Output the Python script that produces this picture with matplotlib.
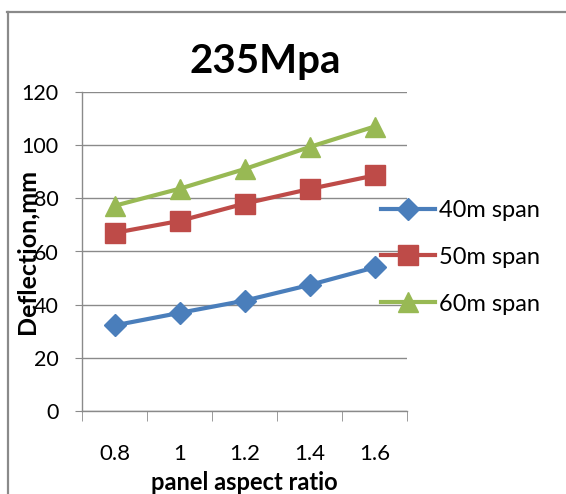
import matplotlib
matplotlib.use("Agg")
import matplotlib.pyplot as plt
from matplotlib.lines import Line2D

plt.rcParams['font.family'] = ['Lato', 'DejaVu Sans']

categories = ["0.8", "1", "1.2", "1.4", "1.6"]
span40 = [32.2, 36.9, 41.5, 47.4, 54.0]
span50 = [67.0, 71.5, 78.0, 83.5, 88.6]
span60 = [77.2, 83.6, 91.0, 99.3, 107.0]
series_names = ["40m span", "50m span", "60m span"]
y_ticks = [0, 20, 40, 60, 80, 100, 120]

W, H = 566, 494
fig = plt.figure(figsize=(W/100, H/100), dpi=100)
fig.patch.set_facecolor('white')

# outer chart border (left and top visible)
fig.add_artist(Line2D([7.5/W, 7.5/W], [0, 1-12/H], color='#8a8a8a', lw=1.6, transform=fig.transFigure))
fig.add_artist(Line2D([7/W, 1], [1-12.5/H, 1-12.5/H], color='#8a8a8a', lw=1.6, transform=fig.transFigure))

ax = fig.add_axes([82/W, 1-411/H, (407-82)/W, (411-92)/H])
x = list(range(len(categories)))

lw = 3.0
ax.plot(x, span40, color='#4A7EBB', lw=lw, marker='D', ms=11, label=series_names[0], zorder=3)
ax.plot(x, span50, color='#BE4B48', lw=lw, marker='s', ms=14, label=series_names[1], zorder=3)
ax.plot(x, span60, color='#98B954', lw=lw, marker='^', ms=15, label=series_names[2], zorder=3)

ax.set_xlim(-0.5, len(categories)-0.5)
ax.set_ylim(0, 120)
ax.set_yticks(y_ticks)
ax.set_yticklabels([str(v) for v in y_ticks], fontsize=15.5)
ax.set_xticks(x)
ax.set_xticklabels(categories, fontsize=16)
ax.tick_params(axis='x', which='major', length=0, pad=24)
ax.set_xticks([i-0.5 for i in range(len(categories)+1)], minor=True)
ax.tick_params(axis='x', which='minor', length=7, color='#8a8a8a', direction='out')
ax.tick_params(axis='y', length=5, color='#8a8a8a', pad=12)

ax.grid(axis='y', color='#8a8a8a', lw=1.0)
ax.set_axisbelow(True)
for s in ['top', 'right']:
    ax.spines[s].set_visible(False)
for s in ['left', 'bottom']:
    ax.spines[s].set_color('#8a8a8a')
    ax.spines[s].set_linewidth(1.0)

ax.set_title("235Mpa", fontsize=29, fontweight='bold', pad=14, x=0.563)
ax.yaxis.set_label_coords(-0.135, 0.5)
ax.set_ylabel("Deflection,mm", fontsize=18, fontweight='bold')
ax.set_xlabel("panel aspect ratio", fontsize=17, fontweight='bold', labelpad=5)

leg = ax.legend(loc='center left', bbox_to_anchor=(0.89, 0.482), frameon=False,
                fontsize=17, handlelength=2.3, handletextpad=0.15, labelspacing=1.1,
                borderaxespad=0)

fig.savefig("out.png", dpi=100)
